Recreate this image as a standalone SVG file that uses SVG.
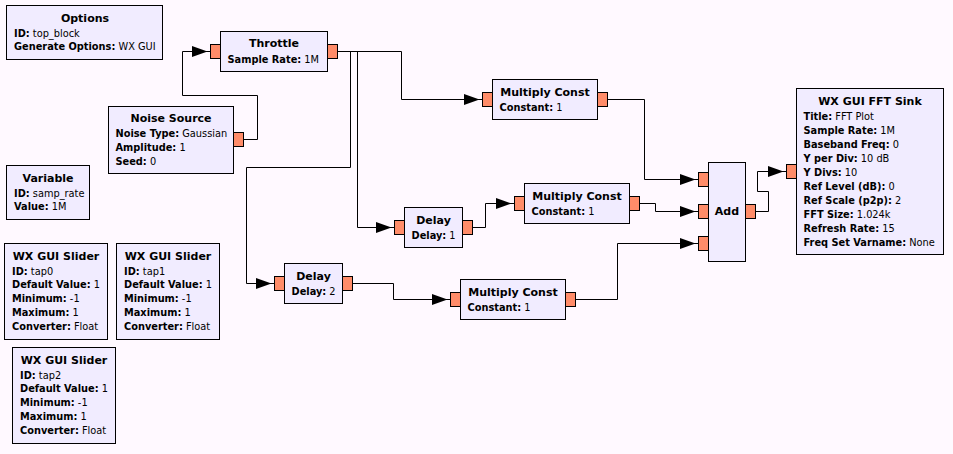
<svg xmlns="http://www.w3.org/2000/svg" width="953" height="454" viewBox="0 0 953 454">
<style>
.blk{fill:#F1ECFF;stroke:#000;stroke-width:1}
.port{fill:#FF8C69;stroke:#000;stroke-width:1}
.t{font-family:"DejaVu Sans",sans-serif;font-weight:bold;font-size:11px;text-anchor:middle;fill:#000}
.p{font-family:"DejaVu Sans",sans-serif;font-size:9.8px;fill:#000}
.p tspan.b{font-weight:bold}
.c{fill:none;stroke:#000;stroke-width:1}
.ah{fill:#000;stroke:none}
</style>
<rect x="0" y="0" width="953" height="454" fill="#FFF9FF"/>

<g id="options">
<rect class="blk" x="6.5" y="5.5" width="156" height="54"/>
<text class="t" x="85" y="21.5">Options</text>
<text class="p" x="14" y="36.5"><tspan class="b">ID:</tspan> top_block</text>
<text class="p" x="14" y="50.4"><tspan class="b">Generate Options:</tspan> WX GUI</text>
</g>

<g id="throttle">
<rect class="blk" x="220.5" y="31.5" width="107" height="40"/>
<text class="t" x="274" y="47">Throttle</text>
<text class="p" x="227.5" y="62.5"><tspan class="b">Sample Rate:</tspan> 1M</text>
<rect class="port" x="210.5" y="44.5" width="10" height="14"/>
<rect class="port" x="327.5" y="44.5" width="10" height="14"/>
</g>

<g id="noise_source">
<rect class="blk" x="108.5" y="106.5" width="125" height="67"/>
<text class="t" x="171" y="122">Noise Source</text>
<text class="p" x="115.5" y="137.3"><tspan class="b">Noise Type:</tspan> Gaussian</text>
<text class="p" x="115.5" y="151.2"><tspan class="b">Amplitude:</tspan> 1</text>
<text class="p" x="115.5" y="165.1"><tspan class="b">Seed:</tspan> 0</text>
<rect class="port" x="233.5" y="132.5" width="10" height="14"/>
</g>

<g id="variable">
<rect class="blk" x="6.5" y="165.5" width="83" height="54"/>
<text class="t" x="48" y="181.5">Variable</text>
<text class="p" x="14" y="196.5"><tspan class="b">ID:</tspan> samp_rate</text>
<text class="p" x="14" y="210.4"><tspan class="b">Value:</tspan> 1M</text>
</g>

<g id="multiply_const_0">
<rect class="blk" x="492.5" y="79.5" width="105" height="40"/>
<text class="t" x="545" y="95.5">Multiply Const</text>
<text class="p" x="499.5" y="110.5"><tspan class="b">Constant:</tspan> 1</text>
<rect class="port" x="482.5" y="92.5" width="10" height="14"/>
<rect class="port" x="597.5" y="92.5" width="10" height="14"/>
</g>

<g id="multiply_const_1">
<rect class="blk" x="524.5" y="183.5" width="105" height="40"/>
<text class="t" x="577" y="199.5">Multiply Const</text>
<text class="p" x="531.5" y="214.5"><tspan class="b">Constant:</tspan> 1</text>
<rect class="port" x="514.5" y="196.5" width="10" height="14"/>
<rect class="port" x="629.5" y="196.5" width="10" height="14"/>
</g>

<g id="multiply_const_2">
<rect class="blk" x="460.5" y="279.5" width="105" height="40"/>
<text class="t" x="513" y="295.5">Multiply Const</text>
<text class="p" x="467.5" y="310.5"><tspan class="b">Constant:</tspan> 1</text>
<rect class="port" x="450.5" y="292.5" width="10" height="14"/>
<rect class="port" x="565.5" y="292.5" width="10" height="14"/>
</g>

<g id="delay_0">
<rect class="blk" x="404.5" y="207.5" width="58" height="40"/>
<text class="t" x="433.5" y="223.5">Delay</text>
<text class="p" x="411.5" y="238.5"><tspan class="b">Delay:</tspan> 1</text>
<rect class="port" x="394.5" y="220.5" width="10" height="14"/>
<rect class="port" x="462.5" y="220.5" width="10" height="14"/>
</g>

<g id="delay_1">
<rect class="blk" x="284.5" y="263.5" width="58" height="40"/>
<text class="t" x="313.5" y="279.5">Delay</text>
<text class="p" x="291.5" y="294.5"><tspan class="b">Delay:</tspan> 2</text>
<rect class="port" x="274.5" y="276.5" width="10" height="14"/>
<rect class="port" x="342.5" y="276.5" width="10" height="14"/>
</g>

<g id="add">
<rect class="blk" x="708.5" y="162.5" width="37" height="99"/>
<text class="t" x="727" y="215">Add</text>
<rect class="port" x="698.5" y="172.5" width="10" height="14"/>
<rect class="port" x="698.5" y="204.5" width="10" height="14"/>
<rect class="port" x="698.5" y="236.5" width="10" height="14"/>
<rect class="port" x="745.5" y="204.5" width="10" height="14"/>
</g>

<g id="fft_sink">
<rect class="blk" x="796.5" y="88.5" width="147" height="166"/>
<text class="t" x="870" y="104.5">WX GUI FFT Sink</text>
<text class="p" x="803.5" y="119.5"><tspan class="b">Title:</tspan> FFT Plot</text>
<text class="p" x="803.5" y="133.5"><tspan class="b">Sample Rate:</tspan> 1M</text>
<text class="p" x="803.5" y="147.5"><tspan class="b">Baseband Freq:</tspan> 0</text>
<text class="p" x="803.5" y="161.5"><tspan class="b">Y per Div:</tspan> 10 dB</text>
<text class="p" x="803.5" y="175.5"><tspan class="b">Y Divs:</tspan> 10</text>
<text class="p" x="803.5" y="189.5"><tspan class="b">Ref Level (dB):</tspan> 0</text>
<text class="p" x="803.5" y="203.5"><tspan class="b">Ref Scale (p2p):</tspan> 2</text>
<text class="p" x="803.5" y="217.5"><tspan class="b">FFT Size:</tspan> 1.024k</text>
<text class="p" x="803.5" y="231.5"><tspan class="b">Refresh Rate:</tspan> 15</text>
<text class="p" x="803.5" y="245.5"><tspan class="b">Freq Set Varname:</tspan> None</text>
<rect class="port" x="786.5" y="164.5" width="10" height="14"/>
</g>

<g id="slider_tap0">
<rect class="blk" x="4.5" y="243.5" width="103" height="96"/>
<text class="t" x="56" y="259.5">WX GUI Slider</text>
<text class="p" x="12" y="274.5"><tspan class="b">ID:</tspan> tap0</text>
<text class="p" x="12" y="288.4"><tspan class="b">Default Value:</tspan> 1</text>
<text class="p" x="12" y="302.3"><tspan class="b">Minimum:</tspan> -1</text>
<text class="p" x="12" y="316.2"><tspan class="b">Maximum:</tspan> 1</text>
<text class="p" x="12" y="330.1"><tspan class="b">Converter:</tspan> Float</text>
</g>

<g id="slider_tap1">
<rect class="blk" x="116.5" y="243.5" width="103" height="96"/>
<text class="t" x="168" y="259.5">WX GUI Slider</text>
<text class="p" x="124" y="274.5"><tspan class="b">ID:</tspan> tap1</text>
<text class="p" x="124" y="288.4"><tspan class="b">Default Value:</tspan> 1</text>
<text class="p" x="124" y="302.3"><tspan class="b">Minimum:</tspan> -1</text>
<text class="p" x="124" y="316.2"><tspan class="b">Maximum:</tspan> 1</text>
<text class="p" x="124" y="330.1"><tspan class="b">Converter:</tspan> Float</text>
</g>

<g id="slider_tap2">
<rect class="blk" x="12.5" y="347.5" width="103" height="96"/>
<text class="t" x="64" y="363.5">WX GUI Slider</text>
<text class="p" x="20" y="378.5"><tspan class="b">ID:</tspan> tap2</text>
<text class="p" x="20" y="392.4"><tspan class="b">Default Value:</tspan> 1</text>
<text class="p" x="20" y="406.3"><tspan class="b">Minimum:</tspan> -1</text>
<text class="p" x="20" y="420.2"><tspan class="b">Maximum:</tspan> 1</text>
<text class="p" x="20" y="434.1"><tspan class="b">Converter:</tspan> Float</text>
</g>

<g id="connectors">
<path class="c" d="M244,139.5 H257.5 V95.5 H182.5 V51.5 H210"/>
<polygon class="ah" points="192,46 207.5,51.5 192,57"/>
<path class="c" d="M338,51.5 H401.5 V99.5 H482"/>
<polygon class="ah" points="464,94 479.5,99.5 464,105"/>
<path class="c" d="M338,51.5 H357.5 V227.5 H394"/>
<polygon class="ah" points="376,222 391.5,227.5 376,233"/>
<path class="c" d="M338,51.5 H350.5 V167.5 H246.5 V283.5 H274"/>
<polygon class="ah" points="256,278 271.5,283.5 256,289"/>
<path class="c" d="M473,227.5 H485.5 V203.5 H514"/>
<polygon class="ah" points="496,198 511.5,203.5 496,209"/>
<path class="c" d="M353,283.5 H393.5 V299.5 H450"/>
<polygon class="ah" points="432,294 447.5,299.5 432,305"/>
<path class="c" d="M608,99.5 H644.5 V179.5 H698"/>
<polygon class="ah" points="680,174 695.5,179.5 680,185"/>
<path class="c" d="M640,203.5 H655.5 V211.5 H698"/>
<polygon class="ah" points="680,206 695.5,211.5 680,217"/>
<path class="c" d="M576,299.5 H617.5 V243.5 H698"/>
<polygon class="ah" points="680,238 695.5,243.5 680,249"/>
<path class="c" d="M756,211.5 H768.5 V191.5 H757.5 V171.5 H786"/>
<polygon class="ah" points="768,166 783.5,171.5 768,177"/>
</g>
</svg>
